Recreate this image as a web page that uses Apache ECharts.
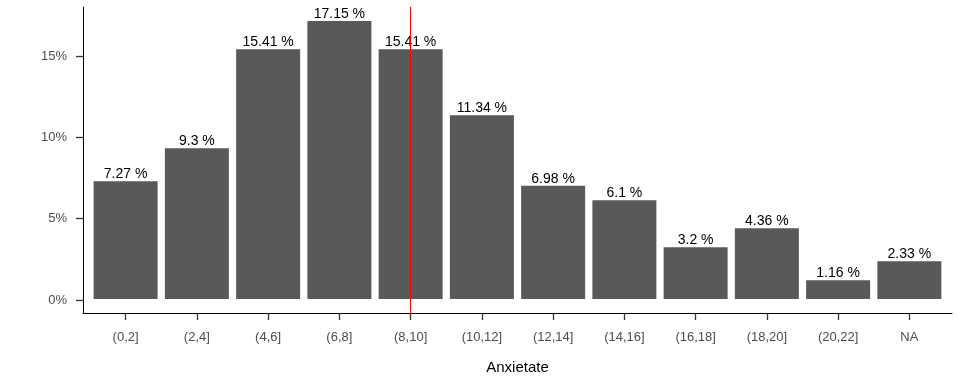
<!DOCTYPE html>
<html>
<head>
<meta charset="utf-8">
<script src="https://cdn.jsdelivr.net/npm/echarts@6/dist/echarts.min.js"></script>
<style>html,body{margin:0;padding:0;background:#fff}#c{width:960px;height:384px}</style>
</head>
<body>
<div id="c"></div>
<script>
const categories = ['(0,2]','(2,4]','(4,6]','(6,8]','(8,10]','(10,12]','(12,14]','(14,16]','(16,18]','(18,20]','(20,22]','NA'];
const values = [7.27, 9.3, 15.41, 17.15, 15.41, 11.34, 6.98, 6.1, 3.2, 4.36, 1.16, 2.33];
const yTickMin = 0, yTickMax = 15, yTickStep = 5;
const refLineCategory = '(8,10]';
const axisTitle = 'Anxietate';

const pad = 0.05 * Math.max(...values);
const font = 'Liberation Sans';
const lineStyle = { color: '#000', width: 1 };
const tickStyle = { color: '#333', width: 1.3 };
const chart = echarts.init(document.getElementById('c'));
chart.setOption({
  animation: false,
  grid: [
    { left: 90, right: 15, top: 7, bottom: 71 },
    { left: 83, right: 8, top: 56, bottom: 84 },
    { left: 83, right: 8, top: 7, bottom: 71 }
  ],
  xAxis: [
    {
      gridIndex: 0, type: 'category', data: categories, boundaryGap: true,
      axisLine: { show: true, onZero: false, lineStyle },
      axisTick: { show: true, alignWithLabel: true, length: 7, lineStyle: tickStyle },
      axisLabel: { interval: 0, color: '#4d4d4d', fontSize: 13, fontFamily: font, margin: 18 },
      splitLine: { show: false },
      name: axisTitle, nameLocation: 'middle', nameGap: 47,
      nameTextStyle: { color: '#000', fontSize: 15, fontFamily: font }
    },
    { gridIndex: 1, type: 'value', show: false },
    {
      gridIndex: 2, type: 'value', min: 0, max: 1,
      axisLine: { show: true, onZero: false, lineStyle },
      axisTick: { show: false }, axisLabel: { show: false }, splitLine: { show: false }
    }
  ],
  yAxis: [
    {
      gridIndex: 0, type: 'value', min: -pad, max: Math.max(...values) + pad,
      axisLine: { show: false }, axisTick: { show: false }, axisLabel: { show: false }, splitLine: { show: false }
    },
    {
      gridIndex: 1, type: 'value', min: yTickMin, max: yTickMax, interval: yTickStep,
      axisLine: { show: true, onZero: false, lineStyle },
      axisTick: { show: true, length: 7, lineStyle: tickStyle },
      axisLabel: { formatter: v => v + '%', color: '#4d4d4d', fontSize: 13, fontFamily: font, margin: 16 },
      splitLine: { show: false }
    },
    {
      gridIndex: 2, type: 'value', min: 0, max: 1,
      axisLine: { show: true, onZero: false, lineStyle },
      axisTick: { show: false }, axisLabel: { show: false }, splitLine: { show: false }
    }
  ],
  series: [{
    type: 'bar', xAxisIndex: 0, yAxisIndex: 0,
    data: values,
    barWidth: 64,
    itemStyle: { color: '#595959' },
    label: { show: true, position: 'top', distance: 0, color: '#000', fontSize: 14, fontFamily: font, formatter: p => p.value + ' %' },
    markLine: {
      silent: true, symbol: 'none',
      lineStyle: { color: '#ff0000', width: 1, type: 'solid' },
      label: { show: false },
      data: [{ xAxis: refLineCategory }]
    }
  }]
});
</script>
</body>
</html>
